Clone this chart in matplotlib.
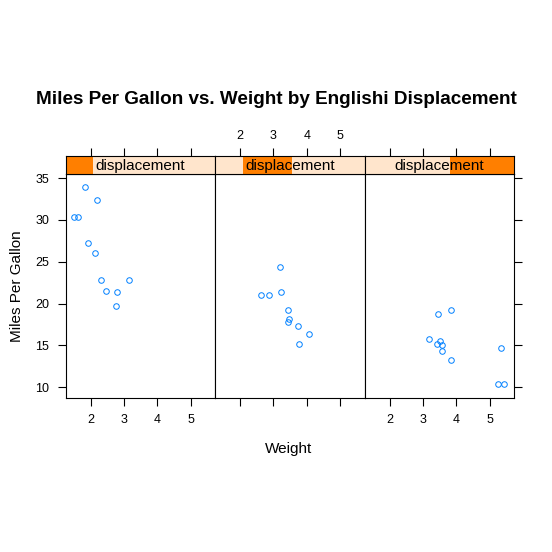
import matplotlib
matplotlib.use("Agg")
import matplotlib.pyplot as plt
from matplotlib.patches import Rectangle
import numpy as np

plt.rcParams["font.family"] = ["Liberation Sans", "DejaVu Sans"]

# mtcars values
weight = [2.620, 2.875, 2.320, 3.215, 3.440, 3.460, 3.570, 3.190, 3.150, 3.440, 3.440,
          4.070, 3.730, 3.780, 5.250, 5.424, 5.345, 2.200, 1.615, 1.835, 2.465, 3.520,
          3.435, 3.840, 3.845, 1.935, 2.140, 1.513, 3.170, 2.770, 3.570, 2.780]
mpg = [21.0, 21.0, 22.8, 21.4, 18.7, 18.1, 14.3, 24.4, 22.8, 19.2, 17.8,
       16.4, 17.3, 15.2, 10.4, 10.4, 14.7, 32.4, 30.4, 33.9, 21.5, 15.5,
       15.2, 13.3, 19.2, 27.3, 26.0, 30.4, 15.8, 19.7, 15.0, 21.4]
displacement = [160, 160, 108, 258, 360, 225, 360, 146.7, 140.8, 167.6, 167.6,
                275.8, 275.8, 275.8, 472, 460, 440, 78.7, 75.7, 71.1, 120.1, 318,
                304, 350, 400, 79, 120.3, 95.1, 351, 145, 301, 121]
# shingle intervals of displacement (one per panel)
disp_levels = [(70.6, 145.5), (146.2, 276.3), (300.5, 472.5)]

x_ticks = [2, 3, 4, 5]
y_ticks = [10, 15, 20, 25, 30, 35]

W = H = 552
fig = plt.figure(figsize=(W / 100, H / 100), dpi=100)


def fx(px):
    return px / W


def fy(py):
    return 1 - py / H


panel_left = [65.5, 215.0, 364.5]
panel_w = 149.5
panel_top, panel_bot = 174.0, 398.0
strip_top = 155.5

xlim = (1.245, 5.735)
ylim = (8.7, 35.5)
wt = np.array(weight)
mp = np.array(mpg)
dp = np.array(displacement)
lo_all = min(l for l, h in disp_levels)
hi_all = max(h for l, h in disp_levels)

tick_len = 5.8
for i, (lo, hi) in enumerate(disp_levels):
    l = panel_left[i]
    ax = fig.add_axes([fx(l), fy(panel_bot), panel_w / W, (panel_bot - panel_top) / H])
    sel = (dp >= lo) & (dp <= hi)
    ax.plot(wt[sel], mp[sel], "o", mfc="none", mec="#0080ff", ms=4, mew=0.7)
    ax.set_xlim(*xlim)
    ax.set_ylim(*ylim)
    for s in ax.spines.values():
        s.set_linewidth(0.8)
    ax.set_xticks(x_ticks)
    ax.set_yticks(y_ticks)
    ax.tick_params(direction="out", length=tick_len, width=0.8, labelsize=9, pad=6)
    ax.tick_params(axis="x", labelbottom=(i != 1))
    if i == 0:
        ax.tick_params(axis="y", left=True, labelleft=True, right=False)
    elif i == 2:
        ax.tick_params(axis="y", left=False, labelleft=False, right=True, labelright=False)
    else:
        ax.tick_params(axis="y", left=False, labelleft=False)

    # strip with shingle level
    st = fig.add_axes([fx(l), fy(panel_top), panel_w / W, (panel_top - strip_top) / H])
    st.set_facecolor("#ffe5cc")
    st.set_xlim(*xlim)
    st.set_ylim(0, 1)
    a = (lo - lo_all) / (hi_all - lo_all)
    b = (hi - lo_all) / (hi_all - lo_all)
    st.add_patch(Rectangle((a, 0), b - a, 1, transform=st.transAxes,
                           facecolor="#ff7f00", edgecolor="none"))
    st.text(0.5, 0.45, "displacement", transform=st.transAxes, ha="center",
            va="center", fontsize=11)
    for s in st.spines.values():
        s.set_linewidth(0.8)
    st.set_yticks([])
    st.set_xticks(x_ticks)
    st.tick_params(axis="x", bottom=False, labelbottom=False, top=True,
                   labeltop=(i == 1), direction="out", length=tick_len,
                   width=0.8, labelsize=9, pad=4)

fig.text(0.5, fy(100), "Miles Per Gallon vs. Weight by Englishi Displacement",
         ha="center", va="center", fontsize=13.6, fontweight="bold")
fig.text(fx(17), fy(286), "Miles Per Gallon", rotation=90, ha="center",
         va="center", fontsize=11)
fig.text(fx(289), fy(449), "Weight", ha="center", va="center", fontsize=11)

fig.savefig("out.png", dpi=100)
